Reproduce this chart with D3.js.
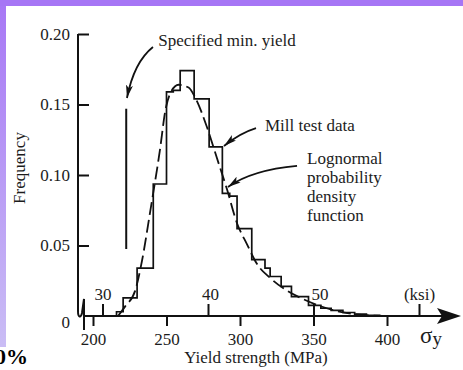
<!DOCTYPE html>
<html>
<head>
<meta charset="utf-8">
<script src="https://cdn.jsdelivr.net/npm/d3@7"></script>
<style>
  html, body { margin: 0; padding: 0; background: #fff; }
  svg { display: block; }
  text { font-family: "Liberation Serif", "Times New Roman", serif; fill: #1c1c1c; font-size: 17px; }
  .tick line { stroke: #111; stroke-width: 2; }
</style>
</head>
<body>
<div class="chart"></div>
<script>
/* Global Constants
============================================= */
const SVG_WIDTH = 463;
const SVG_HEIGHT = 370;

// mill test data histogram: bin edges (MPa) and relative frequency per bin
const binEdges = [216, 220.5, 230, 241, 250, 254.6, 259.3, 268.8, 279, 288, 293, 298,
                  308, 317, 320.5, 328, 335, 346.6, 355, 362, 370, 378, 386, 395];
const binFreq = [0.003, 0.0128, 0.034, 0.0936, 0.159, 0.160, 0.174, 0.154, 0.120, 0.087, 0.085,
                 0.062, 0.040, 0.034, 0.028, 0.021, 0.0137, 0.0075, 0.0055, 0.004, 0.0025, 0.0013, 0.0005];

// lognormal probability density function (dashed curve)
const pdfStress = [217, 222, 228.7, 233.3, 238.9, 245.7, 249.1, 252.6, 258.2, 265, 269.5, 277.5,
                   284.3, 291.1, 297.9, 304.7, 311.5, 320.5, 331.9, 343, 354.6, 377, 397];
const pdfFreq = [0, 0.007, 0.018, 0.039, 0.074, 0.119, 0.145, 0.158, 0.164, 0.162, 0.155, 0.134,
                 0.112, 0.090, 0.066, 0.051, 0.037, 0.027, 0.018, 0.012, 0.007, 0.0014, 0];

// axes
const mpaTicks = [200, 250, 300, 350, 400];
const ksiTicks = [30, 40, 50, 60];
const ksiLabels = ["30", "40", "50", "(ksi)"];
const freqTicks = [0, 0.05, 0.10, 0.15, 0.20];
const freqLabels = ["0", "0.05", "0.10", "0.15", "0.20"];

// specified minimum yield marker (MPa, frequency range)
const MIN_YIELD = 222.6;
const minYieldRange = [0.0475, 0.147];

const textFrequency = "Frequency";
const textYield = "Yield strength (MPa)";
const textMinYield = "Specified min. yield";
const textMill = "Mill test data";
const textPdf = ["Lognormal", "probability", "density", "function"];

var AXIS_X = 78;
var AXIS_END = 446;

/* Scales
============================================= */
var x = d3.scaleLinear().domain([200, 400]).range([93, 387]);
var y = d3.scaleLinear().domain([0, 0.20]).range([316, 34]);
var ksi = d3.scaleLinear().domain([30, 60]).range([102.5, 419]);

var svg = d3.select(".chart")
    .append("svg")
    .attr("width", SVG_WIDTH)
    .attr("height", SVG_HEIGHT);

//****************** slide background *****************//
var defs = svg.append("defs");

var grad = defs.append("linearGradient")
    .attr("id", "band")
    .attr("x1", 0).attr("y1", 0).attr("x2", 0).attr("y2", 1);
grad.append("stop").attr("offset", "0%").attr("stop-color", "#a777f5");
grad.append("stop").attr("offset", "100%").attr("stop-color", "#cabdf5");

svg.append("rect").attr("width", SVG_WIDTH).attr("height", SVG_HEIGHT).attr("fill", "#fff");
svg.append("rect").attr("width", 6).attr("height", 347).attr("fill", "url(#band)");
svg.append("rect").attr("width", SVG_WIDTH).attr("height", 6).attr("fill", "#a676f5");

svg.append("text")
    .attr("x", -5)
    .attr("y", 364)
    .style("font-size", "22px")
    .style("font-weight", "bold")
    .style("fill", "#000")
    .text("0%");

defs.append("marker")
    .attr("id", "arrow")
    .attr("viewBox", "0 -4 14 8")
    .attr("refX", 13)
    .attr("refY", 0)
    .attr("markerWidth", 14)
    .attr("markerHeight", 8)
    .attr("markerUnits", "userSpaceOnUse")
    .attr("orient", "auto")
    .append("path")
    .attr("d", "M0,-3.5L13,0L0,3.5L3,0Z")
    .attr("fill", "#111");

//****************** axes ******************************//
var leftAxis = d3.axisLeft(y)
    .tickValues(freqTicks)
    .tickSizeInner(-11)
    .tickSizeOuter(0)
    .tickPadding(8)
    .tickFormat(function(d, i) { return freqLabels[i]; });

var yAxis = svg.append("g")
    .attr("transform", `translate(${AXIS_X}, 0)`)
    .call(leftAxis);
yAxis.select(".domain").remove();
yAxis.selectAll(".tick").filter(function(d) { return d === 0; }).select("line").remove();
yAxis.selectAll(".tick text").filter(function(d) { return d === 0; }).attr("dy", "0.68em");

var bottomAxis = d3.axisBottom(x)
    .tickValues(mpaTicks)
    .tickSize(10)
    .tickPadding(7)
    .tickFormat(d3.format("d"));

var xAxis = svg.append("g")
    .attr("transform", `translate(0, ${y(0)})`)
    .call(bottomAxis);
xAxis.select(".domain").remove();

var topAxis = d3.axisTop(ksi)
    .tickValues(ksiTicks)
    .tickSize(12)
    .tickPadding(4)
    .tickFormat(function(d, i) { return ksiLabels[i]; });

var ksiAxis = svg.append("g")
    .attr("transform", `translate(0, ${y(0)})`)
    .call(topAxis);
ksiAxis.select(".domain").remove();
ksiAxis.selectAll(".tick text")
    .attr("dx", function(d) { return d === 50 ? 6 : (d === 40 ? 2 : 0); });

// axis lines with the break near the origin
var y0 = y(0);
svg.append("path")
    .attr("d", `M${AXIS_X},${y(0.20)} V${y0 - 5} C${AXIS_X},${y0 + 2} ${AXIS_X + 3},${y0 + 2} ${AXIS_X + 4},${y0 - 3}
                L${AXIS_X + 6},${y0 - 17} L${AXIS_X + 6},${y0 + 14}`)
    .attr("fill", "none")
    .attr("stroke", "#111")
    .attr("stroke-width", 2);

svg.append("path")
    .attr("d", `M${AXIS_X + 6},${y0} H${AXIS_END}`)
    .attr("stroke", "#111")
    .attr("stroke-width", 2);

svg.append("path")
    .attr("d", `M${AXIS_END - 9},${y0 - 8} L${AXIS_END + 15},${y0} L${AXIS_END - 9},${y0 + 8} L${AXIS_END - 4},${y0} Z`)
    .attr("fill", "#111");

svg.append("text")
    .attr("x", 420)
    .attr("y", 343)
    .style("font-size", "23px")
    .text("σ")
    .append("tspan")
    .attr("dy", 2)
    .style("font-size", "19px")
    .text("y");

// axis titles
svg.append("text")
    .attr("transform", "translate(25, 168) rotate(-90)")
    .attr("text-anchor", "middle")
    .text(textFrequency);

svg.append("text")
    .attr("x", 256)
    .attr("y", 363)
    .attr("text-anchor", "middle")
    .text(textYield);

//****************** histogram *************************//
var histPoints = [[binEdges[0], 0]];
binFreq.forEach(function(f, i) {
    histPoints.push([binEdges[i], f]);
    histPoints.push([binEdges[i + 1], f]);
});
histPoints.push([binEdges[binEdges.length - 1], 0]);

var histLine = d3.line()
    .x(function(d) { return x(d[0]); })
    .y(function(d) { return y(d[1]); });

svg.append("path")
    .datum(histPoints)
    .attr("d", histLine)
    .attr("fill", "none")
    .attr("stroke", "#111")
    .attr("stroke-width", 1.7);

//****************** lognormal pdf *********************//
var pdfLine = d3.line()
    .x(function(d, i) { return x(pdfStress[i]); })
    .y(function(d) { return y(d); })
    .curve(d3.curveMonotoneX);

svg.append("path")
    .datum(pdfFreq)
    .attr("d", pdfLine)
    .attr("fill", "none")
    .attr("stroke", "#111")
    .attr("stroke-width", 1.8)
    .attr("stroke-dasharray", "13,5");

//****************** annotations ***********************//
svg.append("line")
    .attr("x1", x(MIN_YIELD))
    .attr("x2", x(MIN_YIELD))
    .attr("y1", y(minYieldRange[0]))
    .attr("y2", y(minYieldRange[1]))
    .attr("stroke", "#111")
    .attr("stroke-width", 2);

// arrows: start, control, tip in (MPa, frequency)
var arrows = [
    [[240.8, 0.1908], [227.9, 0.1801], [223.1, 0.1546]],
    [[310.9, 0.1333], [300.0, 0.1298], [289.1, 0.1206]],
    [[338.8, 0.1064], [308.2, 0.1035], [291.8, 0.0915]]
];

svg.selectAll(".arrow")
    .data(arrows)
    .enter()
    .append("path")
    .attr("class", "arrow")
    .attr("d", function(a) {
        return `M${x(a[0][0])},${y(a[0][1])} Q${x(a[1][0])},${y(a[1][1])} ${x(a[2][0])},${y(a[2][1])}`;
    })
    .attr("fill", "none")
    .attr("stroke", "#111")
    .attr("stroke-width", 1.8)
    .attr("marker-end", "url(#arrow)");

svg.append("text")
    .attr("x", x(244.4))
    .attr("y", y(0.1915))
    .text(textMinYield);

svg.append("text")
    .attr("x", x(317.0))
    .attr("y", y(0.1312))
    .text(textMill);

svg.append("text")
    .attr("y", y(0.1078))
    .selectAll("tspan")
    .data(textPdf)
    .enter()
    .append("tspan")
    .attr("x", x(345.6))
    .attr("dy", function(d, i) { return i === 0 ? 0 : 19; })
    .text(function(d) { return d; });
</script>
</body>
</html>
